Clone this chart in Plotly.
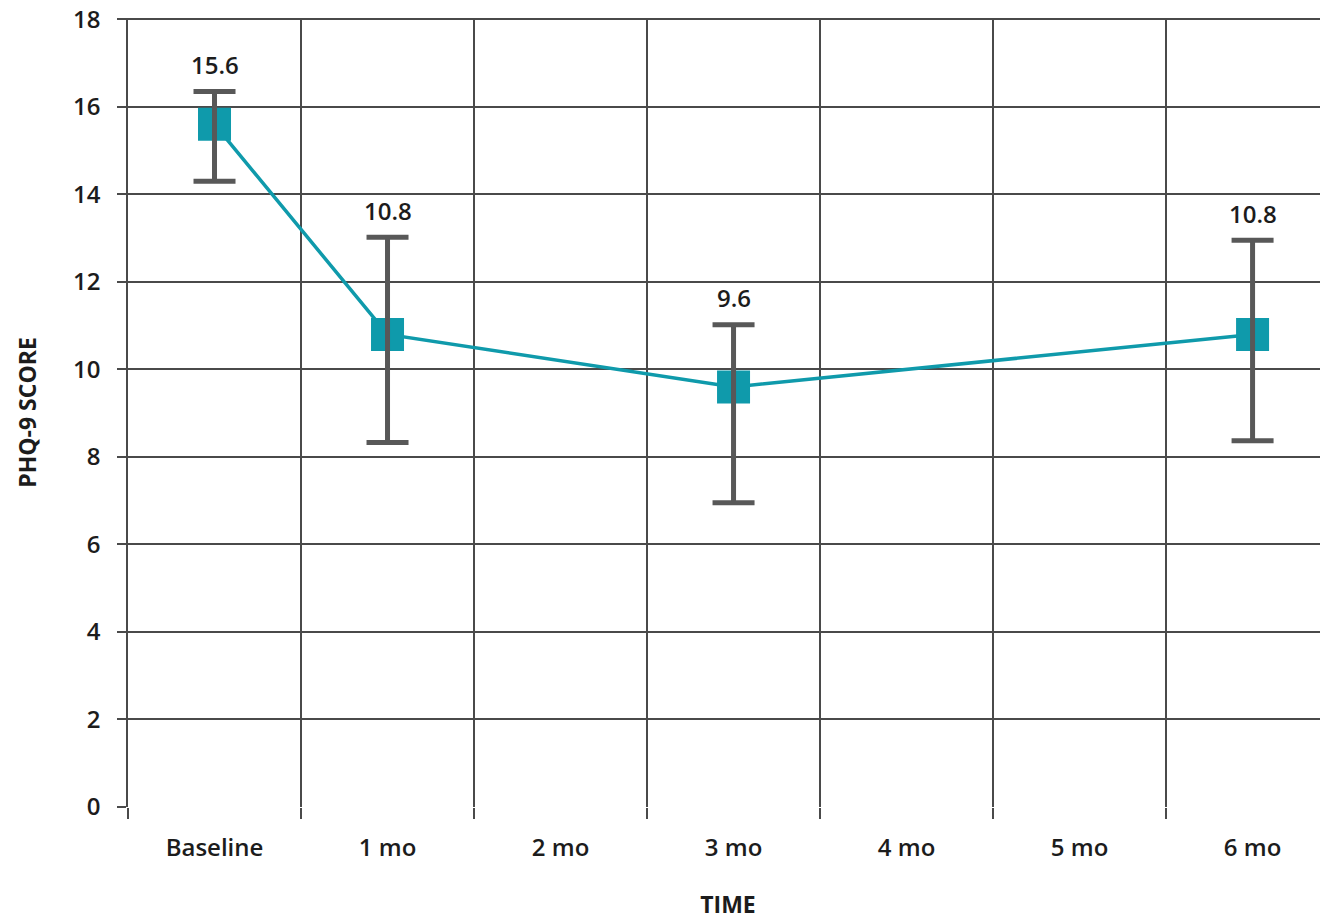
import plotly.graph_objects as go

categories = ["Baseline", "1 mo", "2 mo", "3 mo", "4 mo", "5 mo", "6 mo"]
point_idx = [0, 1, 3, 6]
means = [15.6, 10.8, 9.6, 10.8]
upper = [16.35, 13.02, 11.02, 12.95]
lower = [14.3, 8.33, 6.95, 8.37]
y_ticks = [0, 2, 4, 6, 8, 10, 12, 14, 16, 18]

FONT = "Open Sans"
TEAL = "#0f9aab"
GREY = "#585858"
GRID = "#4a4a4a"
TXT = "#1c1c1c"

err_plus = [u - m for u, m in zip(upper, means)]
err_minus = [m - l for m, l in zip(means, lower)]

fig = go.Figure()
fig.add_trace(go.Scatter(
    x=point_idx, y=means, mode="lines+markers",
    line=dict(color=TEAL, width=3.5),
    marker=dict(symbol="square", size=33, color=TEAL),
    hoverinfo="skip", showlegend=False, cliponaxis=False,
))
fig.add_trace(go.Scatter(
    x=point_idx, y=means, mode="markers",
    marker=dict(size=1, color="rgba(0,0,0,0)"),
    error_y=dict(type="data", symmetric=False, array=err_plus, arrayminus=err_minus,
                 color=GREY, thickness=5, width=21),
    hoverinfo="skip", showlegend=False,
))

for xi, m, u in zip(point_idx, means, upper):
    fig.add_annotation(x=xi, y=u, text=f"{m:.1f}", showarrow=False, yshift=27,
                       font=dict(family=FONT, size=24, color=TXT, weight=600))

fig.update_layout(
    width=1320, height=912,
    margin=dict(l=120, r=0, t=10, b=113, autoexpand=False),
    paper_bgcolor="white", plot_bgcolor="white",
    font=dict(family=FONT, size=24, color=TXT),
    xaxis=dict(
        range=[-0.5, 6.436], tickvals=list(range(len(categories))), ticktext=categories,
        showgrid=False, zeroline=False, showline=False, automargin=False,
        ticks="outside", ticklen=0, tickcolor="rgba(0,0,0,0)",
        ticklabelstandoff=19, ticklabeloverflow="allow",
        tickfont=dict(family=FONT, size=24, color=TXT, weight=600),
        minor=dict(tick0=-0.5, dtick=1, showgrid=True, gridcolor=GRID, gridwidth=1.5,
                   ticks="outside", ticklen=11, tickcolor=GRID, tickwidth=1.5),
        title=dict(text="TIME", standoff=36,
                   font=dict(family=FONT, size=23, color=TXT, weight=700)),
    ),
    yaxis=dict(
        range=[0, 18.03], tickvals=y_ticks, automargin=False,
        showgrid=True, gridcolor=GRID, gridwidth=1.5, zeroline=False,
        showline=True, linecolor=GRID, linewidth=1.5,
        ticks="outside", ticklen=9, tickcolor=GRID, tickwidth=1.5,
        ticklabelstandoff=12, ticklabeloverflow="allow",
        tickfont=dict(family=FONT, size=24, color=TXT, weight=600),
        title=dict(text="PHQ-9 SCORE", standoff=30,
                   font=dict(family=FONT, size=23, color=TXT, weight=700)),
    ),
)

fig.write_html("out.html")
